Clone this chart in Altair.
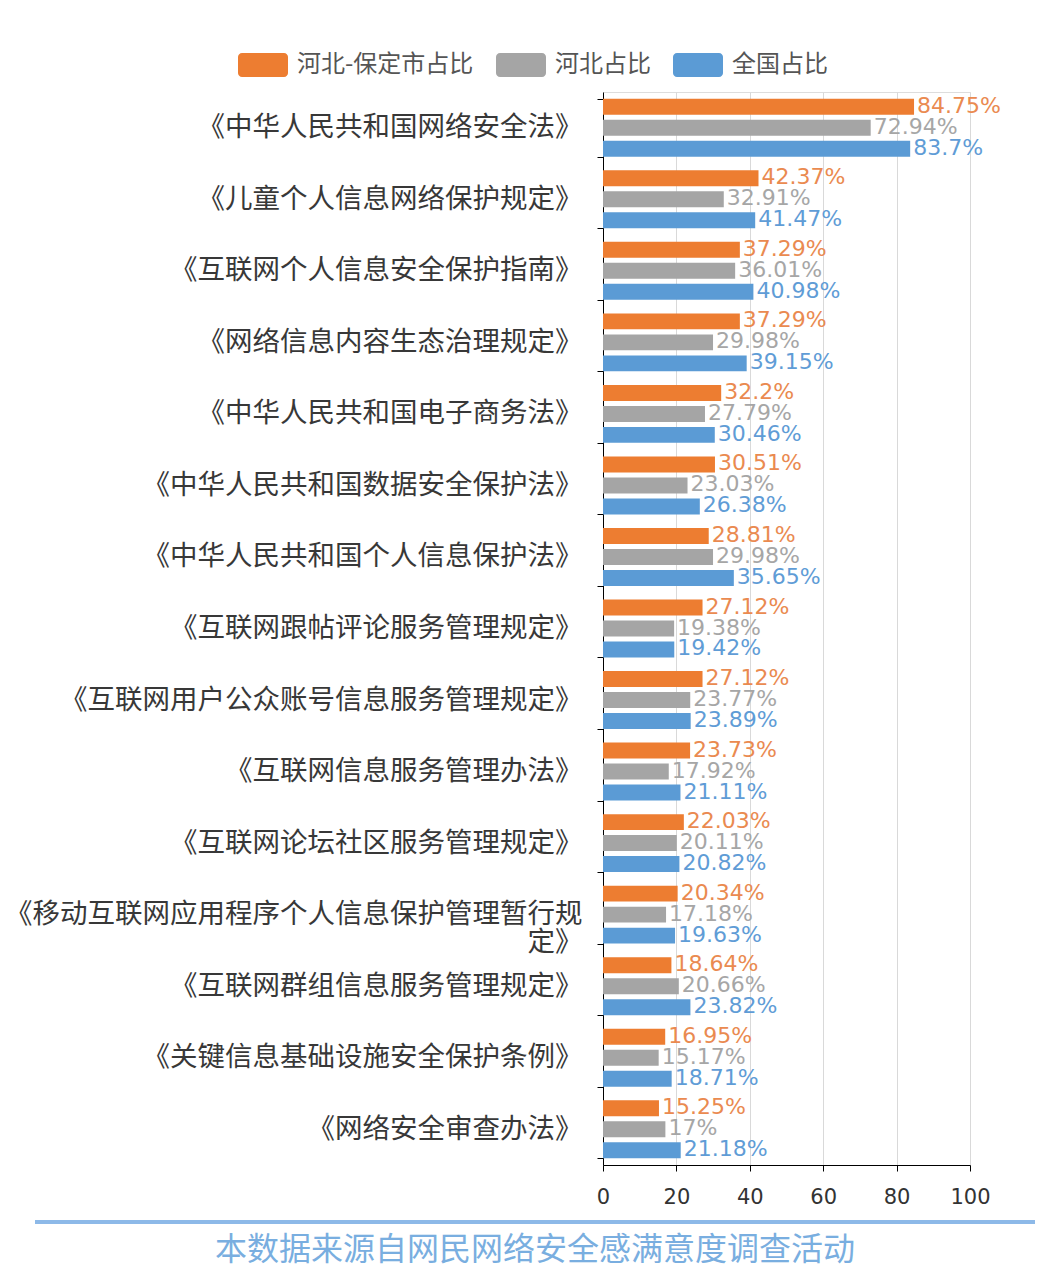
import altair as alt
import pandas as pd

categories = [
    "《中华人民共和国网络安全法》",
    "《儿童个人信息网络保护规定》",
    "《互联网个人信息安全保护指南》",
    "《网络信息内容生态治理规定》",
    "《中华人民共和国电子商务法》",
    "《中华人民共和国数据安全保护法》",
    "《中华人民共和国个人信息保护法》",
    "《互联网跟帖评论服务管理规定》",
    "《互联网用户公众账号信息服务管理规定》",
    "《互联网信息服务管理办法》",
    "《互联网论坛社区服务管理规定》",
    "《移动互联网应用程序个人信息保护管理暂行规|定》",
    "《互联网群组信息服务管理规定》",
    "《关键信息基础设施安全保护条例》",
    "《网络安全审查办法》",
]
series_names = ["河北-保定市占比", "河北占比", "全国占比"]
baoding = [84.75, 42.37, 37.29, 37.29, 32.2, 30.51, 28.81, 27.12, 27.12, 23.73, 22.03, 20.34, 18.64, 16.95, 15.25]
hebei = [72.94, 32.91, 36.01, 29.98, 27.79, 23.03, 29.98, 19.38, 23.77, 17.92, 20.11, 17.18, 20.66, 15.17, 17]
national = [83.7, 41.47, 40.98, 39.15, 30.46, 26.38, 35.65, 19.42, 23.89, 21.11, 20.82, 19.63, 23.82, 18.71, 21.18]
colors = ["#ED7D31", "#A5A5A5", "#5B9BD5"]
label_colors = ["#EA8A50", "#A6A6A6", "#5F9CD6"]
x_ticks = [0, 20, 40, 60, 80, 100]
footer = "本数据来源自网民网络安全感满意度调查活动"

rows = []
for vals, s in zip([baoding, hebei, national], series_names):
    for c, v in zip(categories, vals):
        rows.append({"category": c, "series": s, "value": v})
df = pd.DataFrame(rows)

FONT = "Noto Sans CJK SC"
NUMFONT = "DejaVu Sans"

y_enc = alt.Y(
    "category:N",
    sort=categories,
    scale=alt.Scale(paddingInner=0.19, paddingOuter=0.095),
    axis=alt.Axis(
        title=None,
        labelExpr="split(datum.label, '|')",
        labelFontSize=27.5,
        labelColor="#383838",
        labelFont=FONT,
        labelPadding=15,
        labelLimit=800,
        labelLineHeight=28,
        tickBand="extent",
        tickColor="#000000",
        tickSize=6,
        domainColor="#000000",
        grid=False,
    ),
)
yoff = alt.YOffset("series:N", sort=series_names, scale=alt.Scale(paddingInner=0.24, paddingOuter=0))
x_enc = alt.X(
    "value:Q",
    scale=alt.Scale(domain=[0, 100]),
    axis=alt.Axis(
        title=None,
        values=x_ticks,
        labelFontSize=21,
        labelColor="#333333",
        labelFont=NUMFONT,
        labelPadding=15,
        labelFlush=False,
        tickColor="#000000",
        tickSize=6,
        domainColor="#000000",
        gridColor="#D9D9D9",
        gridWidth=1,
    ),
)

legend_path = ("M-0.84,-0.48 H0.84 A0.16,0.16 0 0 1 1,-0.32 V0.32 A0.16,0.16 0 0 1 0.84,0.48 "
               "H-0.84 A0.16,0.16 0 0 1 -1,0.32 V-0.32 A0.16,0.16 0 0 1 -0.84,-0.48 Z")

bars = alt.Chart(df).mark_bar().encode(
    y=y_enc,
    yOffset=yoff,
    x=x_enc,
    color=alt.Color(
        "series:N",
        sort=series_names,
        scale=alt.Scale(domain=series_names, range=colors),
        legend=alt.Legend(
            title=None,
            orient="none",
            legendX=-365,
            legendY=-52,
            direction="horizontal",
            symbolType=legend_path,
            symbolSize=2500,
            symbolStrokeWidth=0,
            symbolOpacity=1,
            labelFontSize=24,
            labelFont=FONT,
            labelColor="#555555",
            labelOffset=9,
            columnPadding=22,
            labelLimit=400,
        ),
    ),
)

texts = alt.Chart(df).transform_calculate(
    label="datum.value + '%'"
).mark_text(align="left", baseline="middle", dx=3, dy=-1, fontSize=22, font=NUMFONT).encode(
    y=alt.Y("category:N", sort=categories),
    yOffset=yoff,
    x="value:Q",
    text="label:N",
    color=alt.Color("series:N", sort=series_names,
                    scale=alt.Scale(domain=series_names, range=label_colors), legend=None),
)

line = alt.Chart(pd.DataFrame({"t": [footer]})).mark_rule(color="#8DB9E8", strokeWidth=4).encode(
    x=alt.value(-568), x2=alt.value(432), y=alt.value(1130)
)
foot = alt.Chart(pd.DataFrame({"t": [footer]})).mark_text(
    fontSize=32, font=FONT, color="#79AEE0", align="center", baseline="middle"
).encode(text="t:N", x=alt.value(-68), y=alt.value(1158))

chart = alt.layer(bars, texts, line, foot).resolve_scale(color="independent").properties(
    width=367,
    height=1073,
    autosize=alt.AutoSizeParams(type="none"),
    padding={"left": 603, "top": 92, "right": 69, "bottom": 112},
).configure_view(stroke=None).configure(background="white")

chart.save("out.html", embed_options={"renderer": "svg", "actions": False})
